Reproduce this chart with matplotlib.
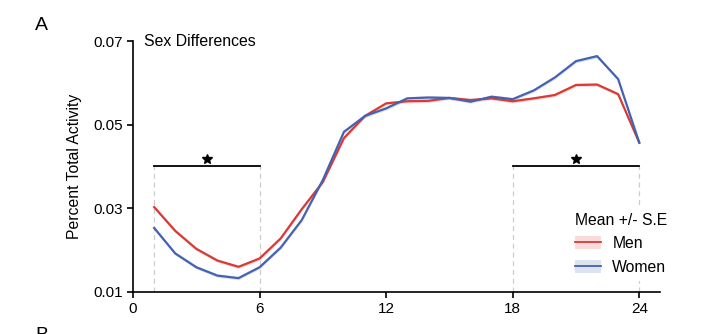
import numpy as np
import matplotlib
matplotlib.use("Agg")
import matplotlib.pyplot as plt
from matplotlib.patches import Patch
from matplotlib.lines import Line2D

plt.rcParams['font.family'] = ['Liberation Sans', 'DejaVu Sans']

hours = np.arange(1, 25)
men = [0.0303, 0.0246, 0.0203, 0.0175, 0.0160, 0.0180, 0.0228, 0.0298,
       0.0363, 0.0468, 0.0521, 0.0551, 0.0556, 0.0557, 0.0564, 0.0559,
       0.0563, 0.0556, 0.0563, 0.0571, 0.0595, 0.0596, 0.0573, 0.0457]
women = [0.0253, 0.0192, 0.0159, 0.0139, 0.0133, 0.0159, 0.0206, 0.0272,
         0.0368, 0.0483, 0.0521, 0.0539, 0.0563, 0.0565, 0.0564, 0.0555,
         0.0567, 0.0561, 0.0582, 0.0613, 0.0652, 0.0664, 0.0609, 0.0457]
men_se = [0.0004] * 24
women_se = [0.0004] * 24

# significant windows (start, end) in hours
sig_windows = [(1, 6), (18, 24)]
sig_level = 0.040

red = '#d93a36'
blue = '#4462b0'

fig = plt.figure(figsize=(7.04, 3.34), dpi=100)
ax = fig.add_axes([0.189, 0.126, 0.749, 0.751])

men = np.array(men)
women = np.array(women)
ax.fill_between(hours, men - men_se, men + men_se, color=red, alpha=0.18, lw=0)
ax.fill_between(hours, women - women_se, women + women_se, color=blue, alpha=0.18, lw=0)
ax.plot(hours, men, color=red, lw=1.6)
ax.plot(hours, women, color=blue, lw=1.6)

for a, b in sig_windows:
    ax.plot([a, b], [sig_level, sig_level], color='black', lw=1.3)
    for xv in (a, b):
        ax.plot([xv, xv], [0.01, sig_level], color='#cccccc', lw=0.9,
                ls=(0, (4, 3)), zorder=0)
    ax.plot((a + b) / 2, sig_level + 0.0017, marker='*', color='black',
            ms=7, ls='none')

ax.set_xlim(0, 25)
ax.set_ylim(0.01, 0.07)
ax.set_xticks([0, 6, 12, 18, 24])
ax.set_yticks([0.01, 0.03, 0.05, 0.07])
ax.set_yticklabels(['0.01', '0.03', '0.05', '0.07'])
ax.tick_params(labelsize=11, width=1.2, length=4)
for s in ('top', 'right'):
    ax.spines[s].set_visible(False)
for s in ('left', 'bottom'):
    ax.spines[s].set_linewidth(1.2)
ax.set_ylabel('Percent Total Activity', fontsize=11.3, labelpad=8)

ax.text(0.5, 0.07, 'Sex Differences', fontsize=11.4, va='center', ha='left')

handles = [(Patch(facecolor=red, alpha=0.18, lw=0), Line2D([], [], color=red, lw=1.3)),
           (Patch(facecolor=blue, alpha=0.18, lw=0), Line2D([], [], color=blue, lw=1.3))]
leg = ax.legend(handles, ['Men', 'Women'], title='Mean +/- S.E',
                loc='lower right', bbox_to_anchor=(1.03, 0.03), fontsize=11.3,
                title_fontsize=11.3, frameon=True, facecolor='white',
                edgecolor='none', framealpha=1, handlelength=1.7,
                handleheight=0.9, handletextpad=0.7, borderaxespad=0.2,
                labelspacing=0.55)
leg.set_zorder(5)

fig.text(0.05, 0.925, 'A', fontsize=14, ha='left', va='center')
fig.text(0.05, -0.005, 'B', fontsize=14, ha='left', va='center')

fig.savefig('out.png', dpi=100)
